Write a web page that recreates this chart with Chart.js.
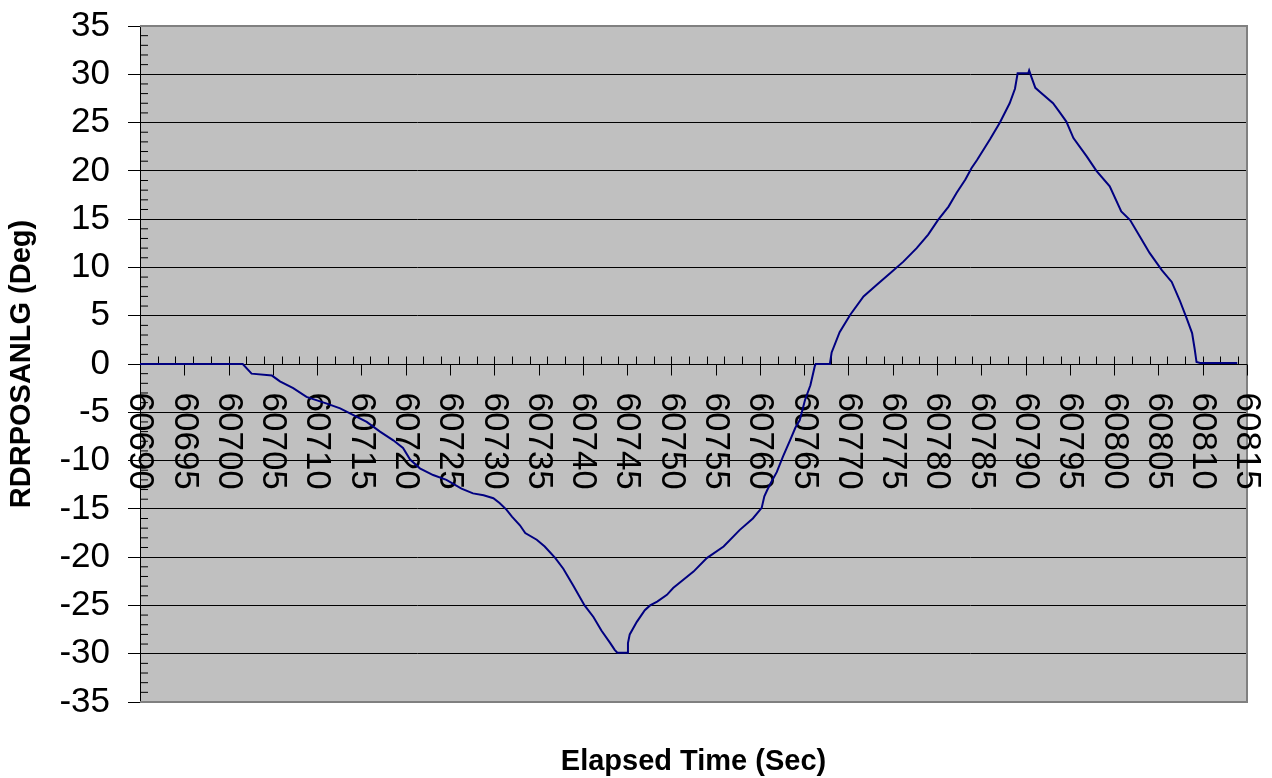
<!DOCTYPE html>
<html>
<head>
<meta charset="utf-8">
<script src="https://cdn.jsdelivr.net/npm/chart.js@4/dist/chart.umd.min.js"></script>
<style>
  html, body { margin: 0; padding: 0; background: #fff; }
  canvas { display: block; }
</style>
</head>
<body>
<canvas id="c" width="1272" height="778"></canvas>
<script>
// ---- data ----
const times = [
  60690.0, 60701.6, 60702.6, 60704.9, 60705.8, 60707.3, 60708.8, 60711.1, 60712.6, 60714.1,
  60715.6, 60717.1, 60718.6, 60719.7, 60720.5, 60721.6, 60723.1, 60724.6, 60726.3, 60727.6,
  60728.8, 60729.9, 60730.6, 60731.4, 60732.0, 60732.9, 60733.5, 60734.8, 60735.7, 60736.9,
  60737.8, 60738.9, 60740.2, 60741.2, 60742.1, 60743.1, 60743.6, 60743.9, 60745.0, 60745.1,
  60745.3, 60746.1, 60747.0, 60747.6, 60748.4, 60749.5, 60750.2, 60751.0, 60752.5, 60754.0,
  60755.9, 60757.7, 60759.2, 60760.2, 60760.5, 60760.8, 60761.3, 60761.9, 60762.6, 60763.4,
  60764.0, 60764.5, 60765.1, 60765.7, 60766.2, 60766.3, 60767.9, 60768.1, 60769.0, 60770.2,
  60771.7, 60773.2, 60774.7, 60776.2, 60777.7, 60779.0, 60780.1, 60781.3, 60782.2, 60783.2,
  60783.9, 60784.5, 60786.0, 60787.1, 60788.2, 60788.8, 60789.1, 60790.3, 60790.4, 60790.7,
  60791.1, 60791.6, 60793.1, 60793.9, 60794.6, 60795.4, 60796.9, 60798.0, 60799.5, 60800.8,
  60801.8, 60802.9, 60804.0, 60805.4, 60806.5, 60807.4, 60808.2, 60808.8, 60809.1, 60809.3,
  60809.7, 60813.9
];
const angles = [
  0.0, 0.0, -1.0, -1.2, -1.8, -2.5, -3.4, -4.1, -4.6, -5.3,
  -6.0, -7.0, -7.9, -8.7, -9.9, -10.8, -11.5, -12.0, -12.9, -13.4,
  -13.6, -13.9, -14.4, -15.1, -15.8, -16.7, -17.5, -18.2, -18.9, -20.1,
  -21.2, -22.9, -25.0, -26.2, -27.6, -28.9, -29.6, -29.9, -29.9, -28.9,
  -28.0, -26.7, -25.5, -25.0, -24.6, -23.9, -23.2, -22.6, -21.5, -20.1,
  -18.9, -17.2, -16.0, -14.9, -13.7, -13.1, -12.2, -11.2, -9.6, -7.9,
  -6.6, -5.8, -3.7, -2.2, -0.2, 0.0, 0.0, 1.2, 3.3, 5.1,
  7.0, 8.2, 9.4, 10.6, 12.0, 13.4, 14.9, 16.3, 17.7, 19.1,
  20.3, 21.1, 23.3, 25.0, 27.0, 28.5, 30.1, 30.1, 30.4, 29.6,
  28.6, 28.2, 27.0, 26.0, 25.1, 23.4, 21.5, 20.0, 18.4, 15.8,
  14.9, 13.2, 11.5, 9.7, 8.5, 6.6, 4.7, 3.2, 1.5, 0.2,
  0.1, 0.1
];
const xTickLabels = [
  '60690', '60695', '60700', '60705', '60710', '60715', '60720', '60725', '60730',
  '60735', '60740', '60745', '60750', '60755', '60760', '60765', '60770', '60775',
  '60780', '60785', '60790', '60795', '60800', '60805', '60810', '60815'
];
const xMin = 60690, xMax = 60815, xMinorStep = 2;
const yMin = -35, yMax = 35, yStep = 5, yMinorStep = 1;
const xTitle = 'Elapsed Time (Sec)';
const yTitle = 'RDRPOSANLG (Deg)';

const FONT = "'Liberation Sans', Arial, sans-serif";

const points = times.map((t, i) => ({ x: t, y: angles[i] }));

const decor = {
  id: 'decor',
  beforeDraw(chart) {
    const { ctx, chartArea: a } = chart;
    ctx.save();
    ctx.fillStyle = '#ffffff';
    ctx.fillRect(0, 0, chart.width, chart.height);
    ctx.fillStyle = '#C0C0C0';
    ctx.fillRect(a.left, a.top, a.right - a.left, a.bottom - a.top);
    ctx.restore();
  },
  beforeDatasetsDraw(chart) {
    const { ctx, chartArea: a, scales } = chart;
    const xs = scales.x, ys = scales.y;
    ctx.save();
    // plot border (grey)
    ctx.strokeStyle = '#808080';
    ctx.lineWidth = 2;
    ctx.beginPath();
    ctx.moveTo(a.left, a.top);
    ctx.lineTo(a.right, a.top);
    ctx.lineTo(a.right, a.bottom);
    ctx.lineTo(a.left, a.bottom);
    ctx.stroke();

    // y minor ticks (inside)
    ctx.strokeStyle = '#000';
    ctx.lineWidth = 1;
    ctx.beginPath();
    for (let v = yMin; v <= yMax; v += yMinorStep) {
      if (v % yStep === 0) continue;
      const py = ys.getPixelForValue(v);
      ctx.moveTo(a.left, py);
      ctx.lineTo(a.left + 8, py);
    }
    ctx.stroke();

    // x axis at y = 0
    const y0 = Math.round(ys.getPixelForValue(0)) + 0.5;
    ctx.beginPath();
    ctx.moveTo(a.left, y0);
    ctx.lineTo(a.right, y0);
    for (let t = xMin; t <= xMax; t += xMinorStep) {
      const px = Math.round(xs.getPixelForValue(t)) + 0.5;
      ctx.moveTo(px, y0 - 8);
      ctx.lineTo(px, y0);
    }
    xTickLabels.forEach(lbl => {
      const px = Math.round(xs.getPixelForValue(Number(lbl))) + 0.5;
      ctx.moveTo(px, y0);
      ctx.lineTo(px, y0 + 11);
    });
    ctx.stroke();

    // rotated x tick labels
    ctx.fillStyle = '#000';
    ctx.font = '35px ' + FONT;
    ctx.textAlign = 'left';
    ctx.textBaseline = 'middle';
    xTickLabels.forEach(lbl => {
      const px = xs.getPixelForValue(Number(lbl));
      ctx.save();
      ctx.translate(px, y0 + 28);
      ctx.rotate(Math.PI / 2);
      ctx.fillText(lbl, 0, 0);
      ctx.restore();
    });
    ctx.restore();
  }
};

new Chart(document.getElementById('c'), {
  type: 'line',
  data: {
    datasets: [{
      data: points,
      borderColor: '#000080',
      borderWidth: 2,
      pointRadius: 0,
      tension: 0,
      fill: false
    }]
  },
  options: {
    responsive: false,
    animation: false,
    events: [],
    layout: { padding: { top: 26, right: 25, bottom: 0, left: 0 } },
    plugins: { legend: { display: false }, tooltip: { enabled: false }, title: { display: false } },
    scales: {
      x: {
        type: 'linear',
        position: 'bottom',
        min: xMin,
        max: xMax,
        grid: { display: false },
        border: { display: false },
        ticks: { display: false },
        title: {
          display: true,
          text: xTitle,
          color: '#000',
          font: { family: FONT, size: 29, weight: 'bold', lineHeight: 1.1 },
          padding: { top: 0, bottom: 0 }
        },
        afterFit(scale) {
          scale.height = 76;
          scale.paddingLeft = 0; scale.paddingRight = 0;
        }
      },
      y: {
        type: 'linear',
        min: yMin,
        max: yMax,
        ticks: {
          stepSize: yStep,
          autoSkip: false,
          color: '#000',
          padding: 18,
          font: { family: FONT, size: 35 }
        },
        grid: {
          color: (c) => (c.tick && (c.tick.value === yMin || c.tick.value === yMax)) ? '#808080' : '#000',
          tickColor: '#000',
          tickLength: 12,
          drawTicks: true,
          lineWidth: 1
        },
        border: { display: true, color: '#000', width: 1 },
        title: {
          display: true,
          text: yTitle,
          color: '#000',
          font: { family: FONT, size: 29, weight: 'bold' },
          padding: { top: 5, bottom: 0 }
        },
        afterFit(scale) {
          scale.width = 140;
          scale.paddingTop = 0; scale.paddingBottom = 0;
        }
      }
    }
  },
  plugins: [decor]
});
</script>
</body>
</html>
